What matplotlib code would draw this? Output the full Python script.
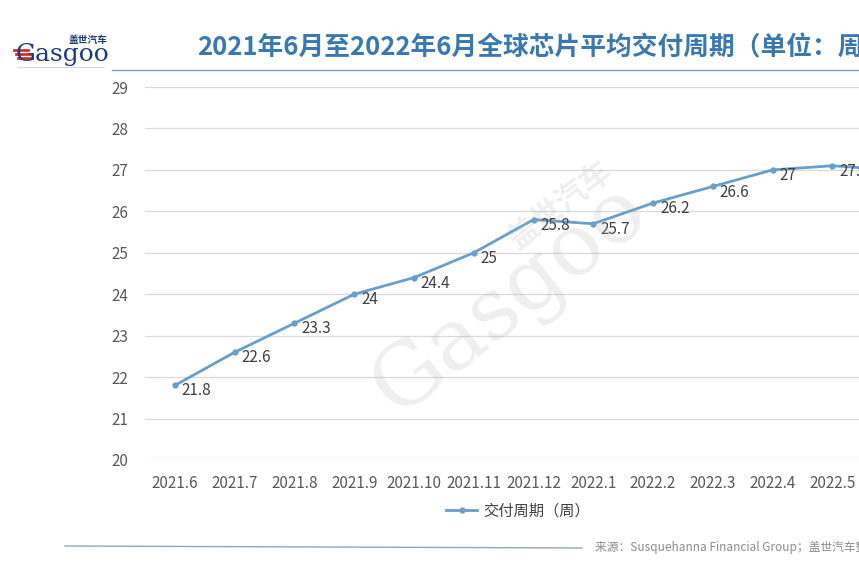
import matplotlib.pyplot as plt
from matplotlib.lines import Line2D

plt.rcParams['font.family'] = ['Noto Sans CJK SC', 'DejaVu Sans']

# data
months = ['2021.6', '2021.7', '2021.8', '2021.9', '2021.10', '2021.11', '2021.12',
          '2022.1', '2022.2', '2022.3', '2022.4', '2022.5', '2022.6']
lead_weeks = [21.8, 22.6, 23.3, 24, 24.4, 25, 25.8, 25.7, 26.2, 26.6, 27, 27.1, 27.0]
y_ticks = list(range(20, 30))

title = '2021年6月至2022年6月全球芯片平均交付周期（单位：周）'
series_name = '交付周期（周）'
source = '来源：Susquehanna Financial Group；盖世汽车整理'

W, H = 859, 573
fig = plt.figure(figsize=(W / 100, H / 100), dpi=100)

line_color = '#6a9ecb'
grey_txt = '#595959'

# axes run past the right edge, like the cropped original
left, right, top, bottom = 145, 922, 87, 460
ax = fig.add_axes([left / W, 1 - bottom / H, (right - left) / W, (bottom - top) / H])
x = list(range(len(months)))
ax.plot(x, lead_weeks, color=line_color, lw=2, marker='o', ms=3.5,
        markerfacecolor=line_color, clip_on=False)
for xi, v in zip(x, lead_weeks):
    ax.annotate(f'{v:g}', (xi, v), xytext=(5, -4), textcoords='offset points',
                ha='left', va='center', fontsize=11, color='#404040')

ax.set_xlim(-0.5, len(months) - 0.5)
ax.set_ylim(20, 29)
ax.set_yticks(y_ticks)
ax.set_xticks(x)
ax.set_xticklabels(months)
ax.tick_params(axis='both', length=0, labelsize=11, labelcolor=grey_txt)
ax.tick_params(axis='x', pad=11)
ax.tick_params(axis='y', pad=12)
for s in ax.spines.values():
    s.set_visible(False)
ax.grid(axis='y', color='#d9d9d9', lw=0.9)
ax.set_axisbelow(True)

# watermark
fig.text(510 / W, 1 - 300 / H, 'Gasgoo', rotation=38, fontsize=62, family='DejaVu Serif',
         color='#b0b0b0', alpha=0.2, ha='center', va='center')
fig.text(560 / W, 1 - 205 / H, '盖世汽车', rotation=38, fontsize=22, weight='bold',
         color='#b0b0b0', alpha=0.2, ha='center', va='center')

# title and header line
fig.text(197 / W, 1 - 48 / H, title, fontsize=18.5, weight='bold', color='#3b78ad',
         ha='left', va='center')
fig.add_artist(Line2D([112 / W, 1.0], [1 - 70 / H] * 2, color='#7f9fbb', lw=1))

# logo
fig.text(88 / W, 1 - 40 / H, '盖世汽车', fontsize=7, weight='bold', color='#1f3c78',
         ha='center', va='center')
fig.text(62 / W, 1 - 55 / H, 'Gasgoo', fontsize=18, family='DejaVu Serif',
         color='#1f3c78', ha='center', va='center')
for i, yy in enumerate([50, 54, 58]):
    fig.add_artist(Line2D([(14 + i * 2) / W, (28 + i * 2) / W], [1 - yy / H] * 2,
                          color='#d0342c', lw=2))
fig.add_artist(Line2D([18 / W, 104 / W], [1 - 67 / H] * 2, color='#cccccc', lw=0.6))

# legend
handle = Line2D([], [], color=line_color, lw=2, marker='o', ms=3.5)
fig.legend([handle], [series_name], loc='center', bbox_to_anchor=(518 / W, 1 - 511 / H),
           frameon=False, fontsize=11, handlelength=2, handletextpad=0.4,
           labelcolor='#404040')

# footer
fig.add_artist(Line2D([65 / W, 582 / W], [1 - 546 / H, 1 - 548 / H], color='#8fa8bd', lw=1))
fig.text(595 / W, 1 - 547 / H, source, fontsize=8.5, style='italic', color='#8c8c8c',
         ha='left', va='center')

fig.savefig('out.png', dpi=100)
